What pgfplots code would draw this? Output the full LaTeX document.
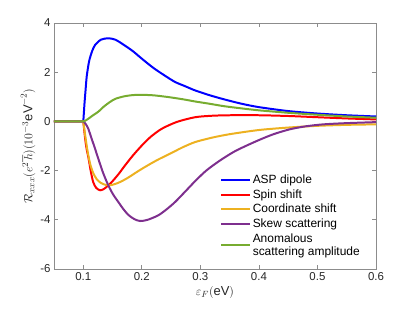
\documentclass[border=0pt]{standalone}
\usepackage{pgfplots}
\pgfplotsset{compat=1.18}
\usepackage{fontspec}
\setmainfont{Liberation Sans}
\definecolor{mblue}{rgb}{0,0,1}
\definecolor{mred}{rgb}{1,0,0}
\definecolor{morange}{rgb}{0.929,0.694,0.125}
\definecolor{mpurple}{rgb}{0.494,0.184,0.556}
\definecolor{mgreen}{rgb}{0.466,0.674,0.188}
\pgfplotsset{curve/.style={draw=#1, line width=2pt, line join=round, smooth, tension=0.45}}
\begin{document}
\begin{tikzpicture}
\useasboundingbox (-54bp,-43bp) rectangle (361bp,269bp);
\begin{axis}[
  scale only axis, width=322bp, height=246bp,
  at={(0,0)}, anchor=south west,
  xmin=0.05, xmax=0.6, ymin=-6, ymax=4,
  xtick={0.1,0.2,0.3,0.4,0.5,0.6},
  ytick={-6,-4,-2,0,2,4},
  xticklabels={0.1,0.2,0.3,0.4,0.5,0.6},
  yticklabels={-6,-4,-2,0,2,4},
  tick align=inside, major tick length=4bp,
  axis line style={black!45, line width=0.8pt},
  every tick/.style={black!45, line width=0.8pt},
  tick label style={font=\fontsize{11.5}{13}\selectfont, text=black!85},
  xlabel={$\varepsilon_F(\mathrm{eV})$},
  ylabel={$\mathcal{R}_{xxx}(e^2\hbar)(10^{-3}\mathrm{eV}^{-2})$},
  label style={font=\fontsize{13}{15}\selectfont, text=black!85},
  xlabel shift=-1bp,
  ylabel shift=-2bp,
  legend cell align=left,
  legend style={at={(0.507,0.40)}, anchor=north west, draw=none, fill=none,
    font=\fontsize{12}{14}\selectfont, row sep=0.5bp,
    cells={align=left}},
  legend image code/.code={\draw[#1] (0cm,0cm) -- (1cm,0cm);},
]
\addplot[curve=mblue] coordinates {(0.05,0) (0.099,0) (0.1,0) (0.102,0.7) (0.104,1.3) (0.106,1.85) (0.11,2.45) (0.115,2.85) (0.12,3.1) (0.13,3.32) (0.1425,3.38) (0.155,3.32) (0.17,3.1) (0.185,2.85) (0.2,2.55) (0.22,2.17) (0.24,1.85) (0.257,1.6) (0.275,1.42) (0.291,1.26) (0.315,1.07) (0.34,0.9) (0.37,0.72) (0.4,0.58) (0.45,0.42) (0.5,0.32) (0.55,0.25) (0.6,0.2)};
\addlegendentry{ASP dipole}
\addplot[curve=mred] coordinates {(0.05,0) (0.099,0) (0.1,0) (0.102,-0.45) (0.104,-0.85) (0.106,-1.15) (0.109,-1.5) (0.113,-2.05) (0.117,-2.47) (0.122,-2.7) (0.1286,-2.8) (0.135,-2.75) (0.142,-2.62) (0.1485,-2.47) (0.16,-2.15) (0.1713,-1.79) (0.185,-1.38) (0.2,-0.98) (0.215,-0.63) (0.234,-0.30) (0.26,-0.02) (0.291,0.17) (0.32,0.23) (0.35,0.25) (0.4,0.25) (0.45,0.22) (0.5,0.17) (0.55,0.12) (0.6,0.08)};
\addlegendentry{Spin shift}
\addplot[curve=morange] coordinates {(0.05,0) (0.099,0) (0.1,0) (0.102,-0.35) (0.105,-0.85) (0.108,-1.3) (0.112,-1.75) (0.117,-2.1) (0.123,-2.35) (0.13,-2.5) (0.138,-2.58) (0.145,-2.6) (0.155,-2.54) (0.165,-2.44) (0.177,-2.28) (0.19,-2.08) (0.2,-1.93) (0.215,-1.72) (0.228,-1.55) (0.245,-1.35) (0.2567,-1.21) (0.27,-1.05) (0.291,-0.84) (0.32,-0.66) (0.35,-0.52) (0.4,-0.35) (0.45,-0.25) (0.5,-0.18) (0.55,-0.14) (0.6,-0.12)};
\addlegendentry{Coordinate shift}
\addplot[curve=mpurple] coordinates {(0.05,0) (0.099,0) (0.1,0) (0.104,-0.1) (0.1086,-0.3) (0.115,-0.75) (0.12,-1.1) (0.1257,-1.52) (0.134,-2.1) (0.1428,-2.6) (0.151,-2.97) (0.16,-3.28) (0.168,-3.55) (0.177,-3.8) (0.187,-3.97) (0.197,-4.05) (0.21,-4.0) (0.228,-3.82) (0.242,-3.58) (0.2567,-3.28) (0.275,-2.83) (0.291,-2.43) (0.31,-2.0) (0.3335,-1.59) (0.36,-1.2) (0.396,-0.8) (0.425,-0.52) (0.453,-0.32) (0.48,-0.2) (0.51,-0.12) (0.55,-0.07) (0.6,-0.03)};
\addlegendentry{Skew scattering}
\addplot[curve=mgreen] coordinates {(0.05,0) (0.099,0) (0.1,0) (0.105,0.05) (0.11,0.13) (0.115,0.22) (0.12,0.3) (0.126,0.4) (0.135,0.6) (0.145,0.78) (0.155,0.92) (0.17,1.02) (0.185,1.07) (0.2,1.08) (0.22,1.06) (0.245,0.99) (0.27,0.9) (0.291,0.81) (0.315,0.72) (0.34,0.62) (0.37,0.53) (0.4,0.45) (0.45,0.35) (0.5,0.27) (0.55,0.2) (0.6,0.15)};
\addlegendentry{Anomalous\\scattering amplitude}
\end{axis}
\end{tikzpicture}
\end{document}
